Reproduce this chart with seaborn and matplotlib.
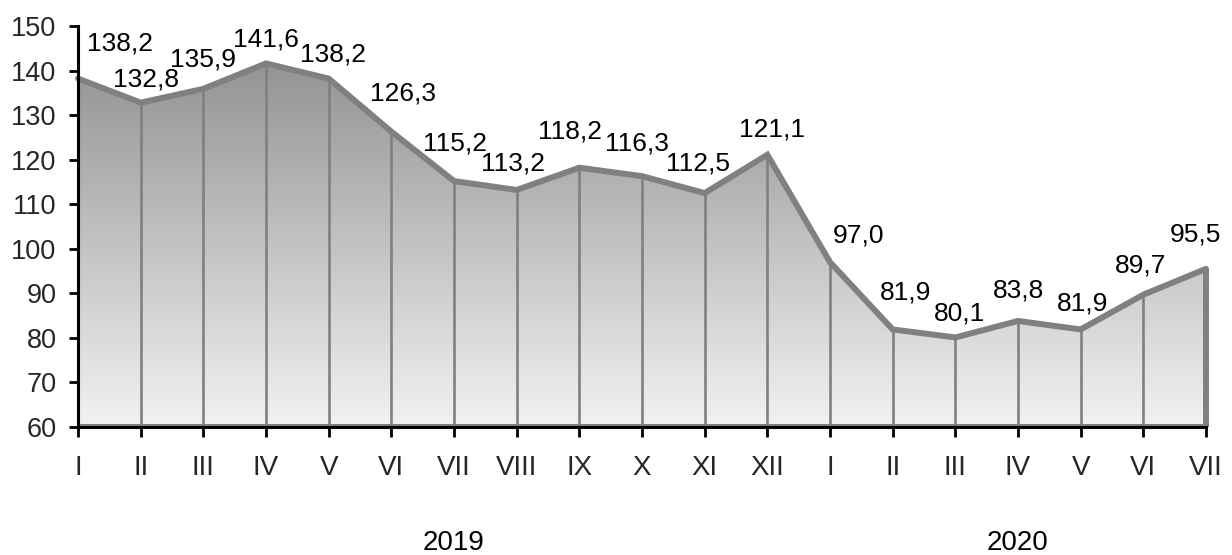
import numpy as np
import matplotlib
matplotlib.use("Agg")
import matplotlib.pyplot as plt
from matplotlib.colors import LinearSegmentedColormap
from matplotlib.patches import Polygon
import matplotlib.transforms as mtransforms
import seaborn as sns
import pandas as pd

# ---- data ----
months = ["I", "II", "III", "IV", "V", "VI", "VII", "VIII", "IX", "X", "XI", "XII",
          "I", "II", "III", "IV", "V", "VI", "VII"]
values = [138.2, 132.8, 135.9, 141.6, 138.2, 126.3, 115.2, 113.2, 118.2, 116.3, 112.5, 121.1,
          97.0, 81.9, 80.1, 83.8, 81.9, 89.7, 95.5]
years = ["2019", "2020"]
year_centers = [6, 15]
y_ticks = [60, 70, 80, 90, 100, 110, 120, 130, 140, 150]

# label offsets (pixels) for the data labels
label_dx = [42, 5, 0, 0, 4, 12, 1, -4, -9, -5, -7, 5, 28, 13, 4, 0, 2, -3, -11]
label_dy = [35, 23, 29, 24, 24, 38, 38, 26, 36, 33, 30, 25, 27, 37, 24, 30, 26, 29, 34]

sns.set_theme(style="white")
plt.rcParams["font.family"] = ["Liberation Sans", "DejaVu Sans"]

W, H, DPI = 1232, 555, 100
fig = plt.figure(figsize=(W / DPI, H / DPI), dpi=DPI)
ax = fig.add_axes([78 / W, 1 - 427 / H, (1206 - 78) / W, (427 - 26) / H])

x = np.arange(len(values))
ymin, ymax = y_ticks[0], y_ticks[-1]
ax.set_xlim(x[0], x[-1])
ax.set_ylim(ymin, ymax)

# gradient area fill
poly_x = [x[0]] + list(x) + [x[-1]]
poly_y = [ymin] + list(values) + [ymin]
poly = Polygon(np.column_stack([poly_x, poly_y]), closed=True, facecolor="none",
               edgecolor="none", transform=ax.transData)
ax.add_patch(poly)
cmap = LinearSegmentedColormap.from_list("g", ["#f2f2f2", "#8a8a8a"])
grad = np.linspace(0, 1, 256).reshape(-1, 1)
im = ax.imshow(grad, cmap=cmap, origin="lower", aspect="auto",
               extent=[x[0], x[-1], ymin, ymax], zorder=1)
im.set_clip_path(poly)

line_col = "#808080"
# drop lines
ax.vlines(x, ymin, values, colors=line_col, linewidth=1.9, zorder=2)
ax.vlines([x[-1]], ymin, [values[-1]], colors=line_col, linewidth=4.3, zorder=2, clip_on=False)
# bottom edge of area
ax.axhline(ymin, color=line_col, linewidth=4.3, zorder=2)

# main line
df = pd.DataFrame({"x": x, "v": values})
sns.lineplot(data=df, x="x", y="v", ax=ax, color=line_col, linewidth=4.3,
             zorder=3, clip_on=False, solid_joinstyle="miter")

# data labels
for xi, v, dx, dy in zip(x, values, label_dx, label_dy):
    ax.annotate(f"{v:.1f}".replace(".", ","), (xi, v),
                xytext=(dx * 72 / DPI, dy * 72 / DPI), textcoords="offset points",
                ha="center", va="center", fontsize=19, color="black", zorder=5,
                annotation_clip=False)

# axes styling
for s in ["top", "right"]:
    ax.spines[s].set_visible(False)
for s in ["left", "bottom"]:
    ax.spines[s].set_color("black")
    ax.spines[s].set_linewidth(2.2)
    ax.spines[s].set_zorder(6)

ax.set_yticks(y_ticks)
ax.set_yticklabels([str(t) for t in y_ticks])
ax.set_xticks(x)
ax.set_xticklabels(months)
ax.tick_params(axis="y", which="major", direction="out", length=6.5, width=2,
               color="black", pad=9, labelsize=19.5, left=True)
ax.tick_params(axis="x", which="major", direction="out", length=7, width=2,
               color="black", pad=13, labelsize=20, bottom=True)
ax.set_xlabel("")
ax.set_ylabel("")
ax.grid(False)

# year labels
trans = mtransforms.blended_transform_factory(ax.transData, fig.transFigure)
for yr, c in zip(years, year_centers):
    ax.text(c, 1 - 543 / H, yr, transform=trans, ha="center", va="center",
            fontsize=20, color="black")

fig.savefig("out.png", dpi=DPI)
